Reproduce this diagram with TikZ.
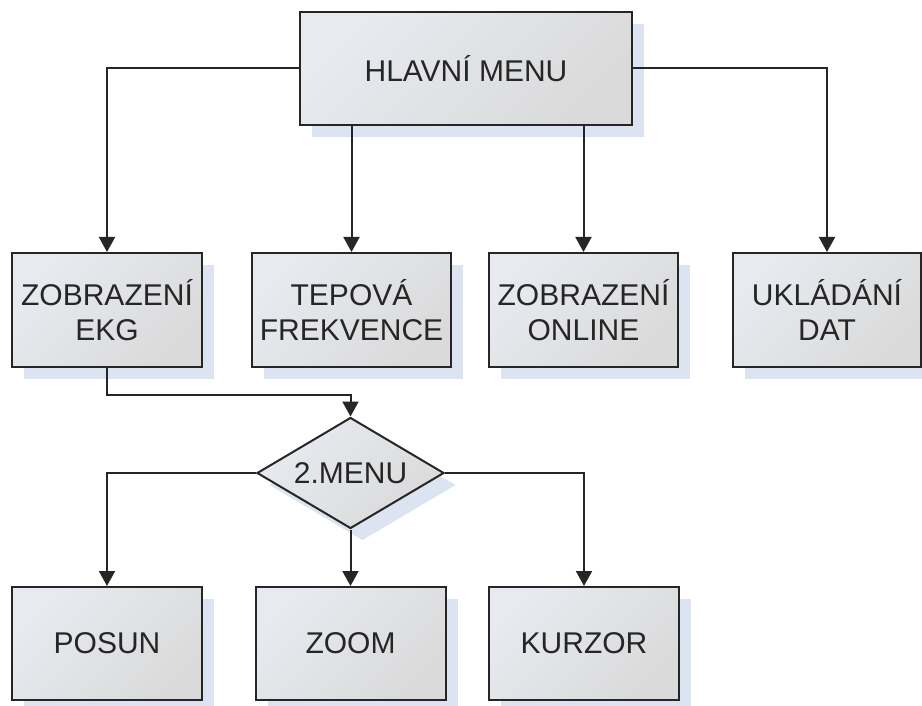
\documentclass[tikz,border=0pt]{standalone}
\usepackage{fontspec}
\setmainfont{Liberation Sans}
\usetikzlibrary{shapes.geometric,arrows.meta,shadows}

\definecolor{lineC}{HTML}{262626}
\definecolor{textC}{HTML}{262626}
\definecolor{fillA}{HTML}{E7EAF0}
\definecolor{fillB}{HTML}{DADADA}
\definecolor{shadowC}{HTML}{DCE4F1}

\tikzset{
  menubox/.style={
    draw=lineC, line width=2pt, inner sep=0pt,
    top color=fillA, bottom color=fillB, shading angle=45,
    text=textC, align=center,
    font=\fontsize{30}{35}\selectfont,
    drop shadow={shadow xshift=12pt, shadow yshift=-12pt, fill=shadowC, opacity=1, draw=none}
  },
  box/.style={menubox, rectangle, minimum height=113pt},
  choice/.style={menubox, diamond, shape aspect=1.68,
    minimum width=187pt, minimum height=111pt},
  conn/.style={draw=lineC, line width=2pt,
    -{Triangle[width=16pt,length=15pt]}}
}

\begin{document}
\begin{tikzpicture}[x=1pt,y=-1pt]
  \useasboundingbox (0,0) rectangle (922,706);

  % main menu
  \node[box, minimum width=332pt] (hm) at (466,68.5) {HLAVNÍ MENU};

  % first level
  \node[box, minimum width=190pt, minimum height=114pt] (ekg) at (107,310) {ZOBRAZENÍ\\EKG};
  \node[box, minimum width=199pt, minimum height=114pt] (tep) at (351.5,310) {TEPOVÁ\\FREKVENCE};
  \node[box, minimum width=189pt, minimum height=114pt] (onl) at (583.5,310) {ZOBRAZENÍ\\ONLINE};
  \node[box, minimum width=188pt, minimum height=114pt] (ukl) at (827,310) {UKLÁDÁNÍ\\DAT};

  % second menu
  \node[choice] (dia) at (350.5,473) {2.MENU};

  % second level
  \node[box, minimum width=190pt] (pos) at (107,643.5) {POSUN};
  \node[box, minimum width=190pt] (zoo) at (350.5,643.5) {ZOOM};
  \node[box, minimum width=190pt] (kur) at (584,643.5) {KURZOR};

  % connectors
  \coordinate (bend) at (350.5,395);
  \draw[conn] (hm.west) -| (ekg.north);
  \draw[conn] (hm.east) -| (ukl.north);
  \draw[conn] (tep.north |- hm.south) -- (tep.north);
  \draw[conn] (onl.north |- hm.south) -- (onl.north);
  \draw[conn] (ekg.south) |- (bend) -- (dia.north);
  \draw[conn] (dia.west) -| (pos.north);
  \draw[conn] (dia.south) -- (zoo.north);
  \draw[conn] (dia.east) -| (kur.north);
\end{tikzpicture}
\end{document}
